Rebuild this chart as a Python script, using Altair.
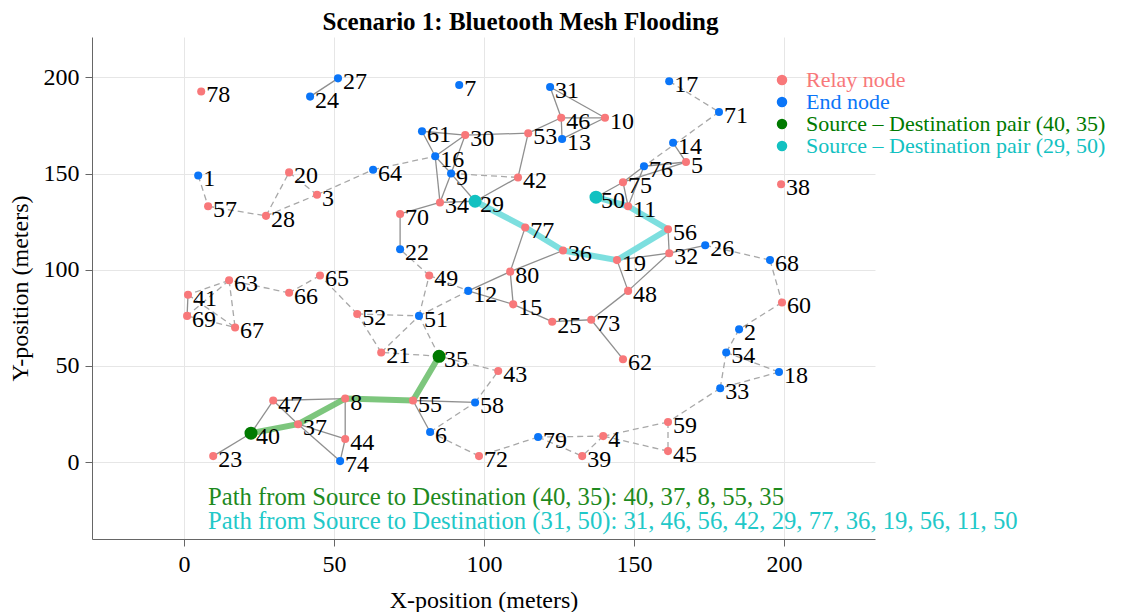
import altair as alt
import pandas as pd

# ---------------- data ----------------
node_id = list(range(1, 81))
node_x = [4.7, 185, 44.3, 139.7, 167.3, 82, 91.7, 53.7, 89, 140.3,
          148, 94.7, 126, 163, 109.7, 83.7, 161.7, 198.3, 144.3, 35,
          65.7, 72, 9.7, 42, 122.7, 173.7, 51.3, 27.3, 97, 93.7,
          122, 161.7, 178.7, 85.3, 85, 126.3, 38, 199, 132.7, 22.3,
          1.3, 111.3, 104.7, 53.7, 161.3, 125.7, 29.7, 148, 81.7, 137.3,
          78.3, 57.7, 114.7, 180.7, 76.3, 161.3, 8, 97, 161.3, 199.3,
          79.3, 146.3, 15, 63, 45.3, 35, 17, 195.3, 1, 72,
          178.3, 98.3, 135.7, 52, 146.3, 153.3, 113.7, 5.7, 118, 108.7]
node_y = [149, 69, 139, 13.5, 156, 15.6, 196, 33, 150, 179,
          133, 89, 168, 166, 82, 159, 198, 46.8, 105, 150.6,
          57, 110.6, 3.1, 190, 73, 112.7, 199.5, 128, 135.6, 170,
          195, 108.6, 38.4, 135, 55, 110, 19.7, 144.4, 3.1, 15,
          87, 148, 47.3, 12, 5.7, 179, 32, 89, 97, 137.7,
          76, 77, 171, 57, 32, 121, 133, 31, 20.8, 83,
          172, 53.5, 94.5, 152, 97, 88, 70, 105, 76, 129,
          182, 3.1, 74, 0.5, 145.5, 153.8, 122, 192.7, 13, 99]
# R = relay, E = end node, S1 / S2 = source-destination pairs
node_type = ["E", "E", "R", "R", "R", "E", "E", "R", "E", "R",
             "R", "E", "E", "E", "R", "E", "E", "E", "R", "R",
             "R", "E", "R", "E", "R", "E", "E", "R", "S2", "R",
             "E", "R", "E", "R", "S1", "R", "R", "R", "R", "S1",
             "R", "R", "R", "R", "R", "R", "R", "R", "R", "S2",
             "E", "R", "R", "E", "R", "R", "R", "E", "R", "R",
             "E", "R", "R", "E", "R", "R", "R", "E", "R", "R",
             "E", "R", "R", "E", "R", "E", "R", "R", "E", "R"]

solid_edges = [(24, 27), (61, 30), (61, 16), (30, 16), (30, 9), (30, 53), (16, 34), (16, 9),
               (9, 34), (9, 29), (34, 29), (34, 70), (70, 22), (53, 46), (53, 42),
               (46, 31), (46, 10), (46, 13), (31, 10), (13, 10), (42, 29), (77, 80),
               (80, 36), (80, 12), (80, 15), (12, 15), (15, 25), (25, 73), (73, 48),
               (73, 62), (48, 32), (48, 19), (19, 32), (32, 56), (32, 26), (14, 5),
               (76, 5), (75, 5), (75, 76), (75, 11), (76, 11), (50, 75), (40, 23),
               (40, 47), (47, 8), (47, 37), (37, 44), (37, 74), (8, 44), (44, 74),
               (55, 58), (55, 6), (41, 69)]
dashed_edges = [(1, 57), (57, 28), (28, 20), (28, 3), (20, 3), (3, 64),
                (64, 16), (9, 42), (17, 71), (71, 76), (26, 68), (68, 60), (60, 2),
                (2, 54), (54, 18), (54, 33), (18, 33), (33, 59), (59, 45), (59, 4),
                (45, 4), (4, 79), (4, 39), (79, 39), (79, 72), (72, 6), (6, 58),
                (58, 43), (43, 35), (35, 51), (35, 21), (21, 51), (21, 52), (52, 51),
                (52, 65), (65, 66), (66, 63), (63, 41), (63, 69), (63, 67), (41, 67),
                (69, 67), (51, 49), (49, 22), (51, 12), (49, 12)]

path1 = [40, 37, 8, 55, 35]
path2 = [29, 77, 36, 19, 56, 11, 50]

type_names = {"R": "Relay node", "E": "End node",
              "S1": "Source \u2013 Destination pair (40, 35)",
              "S2": "Source \u2013 Destination pair (29, 50)"}
legend_order = [type_names[k] for k in ["R", "E", "S1", "S2"]]
legend_colors = ["#f8787a", "#0a75f8", "#007a00", "#12c1c1"]

note1 = "Path from Source to Destination (40, 35): 40, 37, 8, 55, 35"
note2 = "Path from Source to Destination (31, 50): 31, 46, 56, 42, 29, 77, 36, 19, 56, 11, 50"

# ---------------- tables ----------------
pos = {i: (x, y) for i, x, y in zip(node_id, node_x, node_y)}
nodes = pd.DataFrame({
    "id": node_id, "x": node_x, "y": node_y,
    "type": [type_names[t] for t in node_type],
    "big": [t in ("S1", "S2") for t in node_type],
    "label": [str(i) for i in node_id],
})


def edge_df(edges):
    return pd.DataFrame([{"x": pos[a][0], "y": pos[a][1], "x2": pos[b][0], "y2": pos[b][1]}
                         for a, b in edges])


def path_df(path):
    return pd.DataFrame([{"o": k, "x": pos[n][0], "y": pos[n][1]} for k, n in enumerate(path)])


FONT = "Liberation Serif"
xscale = alt.Scale(domain=[-30.7, 230.3], nice=False)
yscale = alt.Scale(domain=[-40, 221], nice=False)

X = alt.X("x:Q", scale=xscale, title="X-position (meters)",
          axis=alt.Axis(values=[0, 50, 100, 150, 200]))
Y = alt.Y("y:Q", scale=yscale, title="Y-position (meters)",
          axis=alt.Axis(values=[0, 50, 100, 150, 200]))

solid = alt.Chart(edge_df(solid_edges)).mark_rule(color="#8f8f8f", strokeWidth=1.3).encode(
    x=X, y=Y, x2="x2:Q", y2="y2:Q")
dashed = alt.Chart(edge_df(dashed_edges)).mark_rule(
    color="#a8a8a8", strokeWidth=1.3, strokeDash=[6, 4]).encode(
    x=X, y=Y, x2="x2:Q", y2="y2:Q")

p1 = alt.Chart(path_df(path1)).mark_line(color="#5cb85c", opacity=0.8, strokeWidth=6,
                                          strokeJoin="round", strokeCap="round").encode(
    x=X, y=Y, order="o:Q")
p2 = alt.Chart(path_df(path2)).mark_line(color="#6fdcdc", opacity=0.9, strokeWidth=6,
                                          strokeJoin="round", strokeCap="round").encode(
    x=X, y=Y, order="o:Q")

color_expr = ("datum.label == '%s' ? '%s' : datum.label == '%s' ? '%s' : "
              "datum.label == '%s' ? '%s' : '%s'") % (
    legend_order[0], legend_colors[0], legend_order[1], legend_colors[1],
    legend_order[2], legend_colors[2], legend_colors[3])

points = alt.Chart(nodes).mark_circle(opacity=1).encode(
    x=X, y=Y,
    color=alt.Color("type:N", scale=alt.Scale(domain=legend_order, range=legend_colors),
                    legend=alt.Legend(title=None, orient="none", legendX=679, legendY=32,
                                      labelFont=FONT, labelFontSize=22, symbolSize=110,
                                      symbolType="circle", rowPadding=0, labelLimit=0,
                                      labelOffset=13,
                                      labelColor=alt.ExprRef(color_expr))),
    size=alt.Size("big:N", scale=alt.Scale(domain=[False, True], range=[65, 170]), legend=None),
)

labels = alt.Chart(nodes).mark_text(align="left", baseline="middle", dx=5, dy=4,
                                    font=FONT, fontSize=24, color="black").encode(
    x=X, y=Y, text="label:N")

n1 = alt.Chart(pd.DataFrame({"t": [note1]})).mark_text(
    align="left", baseline="middle", font=FONT, fontSize=24.7, color="#1e8a1e").encode(
    x=alt.value(116), y=alt.value(461), text="t:N")
n2 = alt.Chart(pd.DataFrame({"t": [note2]})).mark_text(
    align="left", baseline="middle", font=FONT, fontSize=24.7, color="#22c8c8").encode(
    x=alt.value(116), y=alt.value(485), text="t:N")

chart = alt.layer(solid, dashed, p1, p2, points, labels, n1, n2).properties(
    width=783, height=502,
    padding={"left": 0, "top": 2, "right": 5, "bottom": 0},
    title=alt.TitleParams("Scenario 1: Bluetooth Mesh Flooding", font=FONT, fontSize=25,
                          fontWeight="bold", anchor="middle", dx=37, color="black",
                          offset=2),
).configure_view(stroke=None).configure_axis(
    labelFont=FONT, titleFont=FONT, labelFontSize=24, titleFontSize=24,
    titleFontWeight="normal", labelColor="black", titleColor="black",
    gridColor="#e6e6e6", domainColor="#666666", tickColor="#666666",
    tickSize=7, labelPadding=6,
).configure_axisY(titlePadding=11).configure_axisX(titlePadding=12)

chart.save("out.html", embed_options={"renderer": "svg", "actions": False})
